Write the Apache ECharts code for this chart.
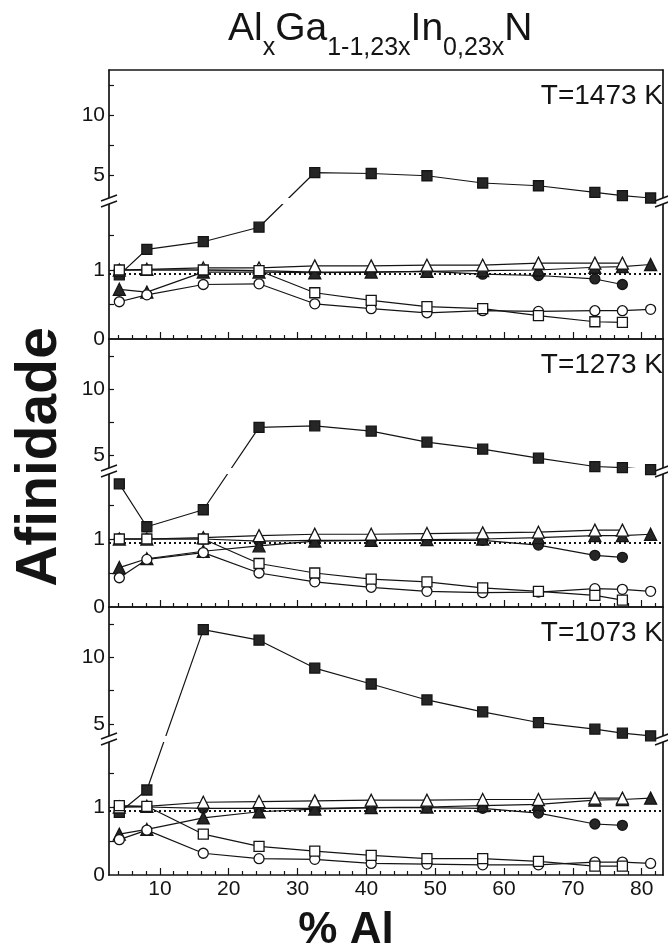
<!DOCTYPE html>
<html>
<head>
<meta charset="utf-8">
<script src="https://cdn.jsdelivr.net/npm/echarts@6/dist/echarts.min.js"></script>
<style>
  html, body { margin: 0; padding: 0; background: #ffffff; }
  #chart { width: 668px; height: 951px; }
</style>
</head>
<body>
<div id="chart"></div>
<script>
// Al content (%) of each calculated composition
const alPercent = [4.1, 8.1, 16.3, 24.4, 32.5, 40.7, 48.8, 56.9, 65.0, 73.2, 77.2, 81.3];

// Axis ticks and labels
const xTickLabels = [10, 20, 30, 40, 50, 60, 70, 80];
const xMinorTicks = [4, 6, 8, 12, 14, 16, 18, 22, 24, 26, 28, 32, 34, 36, 38, 42, 44, 46, 48,
                     52, 54, 56, 58, 62, 64, 66, 68, 72, 74, 76, 78, 82];
const yTicks = [0.5, 1, 1.5, 5, 7.5, 10, 12.5];
const yLabels = [0, 1, 5, 10];

const temperatures = ['T=1473 K', 'T=1273 K', 'T=1073 K'];
const referenceLevel = [0.94, 0.94, 0.94];

// T = 1473 K
const sqFill1473   = [0.93, 1.30, 1.41, 1.62, 5.19, 5.11, 4.92, 4.31, 4.08, 3.53, 3.25, 3.05];
const sqOpen1473   = [1.00, 1.00, 1.00, 0.99, 0.67, 0.56, 0.47, 0.44, 0.34, 0.25, 0.24, null];
const circOpen1473 = [0.54, 0.64, 0.79, 0.80, 0.51, 0.44, 0.38, 0.41, 0.40, 0.41, 0.41, 0.43];
const triFill1473  = [0.72, 0.68, 0.97, 0.97, 0.96, 0.97, 0.98, 0.99, 1.00, 1.04, 1.05, 1.08];
const triOpen1473  = [1.00, 1.01, 1.03, 1.03, 1.06, 1.06, 1.07, 1.07, 1.10, 1.10, 1.10, null];
const circFill1473 = [1.00, 1.00, 1.00, 0.99, 0.97, 0.97, 0.98, 0.94, 0.92, 0.87, 0.79, null];

// T = 1273 K
const sqFill1273   = [1.81, 1.18, 1.43, 7.08, 7.20, 6.80, 5.96, 5.43, 4.75, 4.11, 4.02, 3.88];
const sqOpen1273   = [1.00, 1.00, 1.00, 0.64, 0.50, 0.41, 0.37, 0.28, 0.23, 0.17, 0.10, null];
const circOpen1273 = [0.43, 0.70, 0.80, 0.50, 0.37, 0.29, 0.23, 0.21, 0.22, 0.27, 0.26, 0.23];
const triFill1273  = [0.58, 0.71, 0.82, 0.90, 0.97, 0.98, 0.99, 1.00, 1.02, 1.05, 1.05, 1.07];
const triOpen1273  = [1.00, 1.00, 1.02, 1.05, 1.07, 1.07, 1.08, 1.09, 1.10, 1.13, 1.13, null];
const circFill1273 = [1.00, 1.00, 1.00, 0.97, 0.98, 0.98, 0.98, 0.98, 0.91, 0.76, 0.73, null];

// T = 1073 K
const sqFill1073   = [0.92, 1.25, 12.1, 11.3, 9.20, 8.00, 6.80, 5.90, 5.10, 4.60, 4.30, 4.10];
const sqOpen1073   = [1.02, 1.01, 0.60, 0.42, 0.35, 0.29, 0.24, 0.24, 0.20, 0.13, 0.13, null];
const circOpen1073 = [0.52, 0.66, 0.32, 0.24, 0.23, 0.17, 0.16, 0.15, 0.15, 0.19, 0.19, 0.17];
const triFill1073  = [0.60, 0.67, 0.84, 0.93, 0.97, 0.99, 1.00, 1.02, 1.04, 1.10, 1.11, 1.13];
const triOpen1073  = [1.00, 1.01, 1.07, 1.08, 1.09, 1.10, 1.10, 1.11, 1.11, 1.13, 1.13, null];
const circFill1073 = [1.00, 1.00, 0.98, 0.98, 0.98, 0.99, 0.99, 0.98, 0.91, 0.75, 0.73, null];

const panels = [
  { sqFill: sqFill1473, circFill: circFill1473, triFill: triFill1473,
    triOpen: triOpen1473, circOpen: circOpen1473, sqOpen: sqOpen1473 },
  { sqFill: sqFill1273, circFill: circFill1273, triFill: triFill1273,
    triOpen: triOpen1273, circOpen: circOpen1273, sqOpen: sqOpen1273 },
  { sqFill: sqFill1073, circFill: circFill1073, triFill: triFill1073,
    triOpen: triOpen1073, circOpen: circOpen1073, sqOpen: sqOpen1073 }
];

// Marker styles, in drawing order (later ones sit on top)
const ink = '#141414';
const markerStyles = [
  { key: 'sqFill',   symbol: 'rect',     size: 10, fill: '#262626' },
  { key: 'circFill', symbol: 'circle',   size: 10, fill: '#262626' },
  { key: 'triFill',  symbol: 'triangle', size: 12, fill: '#262626' },
  { key: 'triOpen',  symbol: 'triangle', size: 12, fill: '#ffffff' },
  { key: 'circOpen', symbol: 'circle',   size: 10, fill: '#ffffff' },
  { key: 'sqOpen',   symbol: 'rect',     size: 10, fill: '#ffffff' }
];

// Page layout
const FONT = "'Liberation Sans', Arial, Helvetica, sans-serif";
const LEFT = 109, RIGHT = 5;
const panelTop = [70, 339, 607];
const panelBottom = [339, 607, 875];
const breakY = [201, 471, 739];          // where the axis is broken
const lowerMax = 2;                      // lower part: 0 .. 2
const upperStart = [2.8, 3.77, 3.86];    // upper part: upperStart .. upperMax
const upperMax = 13.8;
const xMin = 2.6, xMax = 83.1;

// Broken y axis: the lower part and the upper part each keep a linear scale,
// joined at the break into one continuous axis coordinate.
function brokenScale(p) {
  const lowerPx = panelBottom[p] - breakY[p];
  const upperPx = breakY[p] - panelTop[p];
  const perLower = lowerPx / lowerMax;
  const perUpper = upperPx / (upperMax - upperStart[p]);
  const k = perUpper / perLower;
  return {
    max: lowerMax + upperPx / perLower,
    toAxis: v => (v <= lowerMax ? v : lowerMax + (v - upperStart[p]) * k),
    fromAxis: t => (t <= lowerMax + 1e-9 ? t : upperStart[p] + (t - lowerMax) / k)
  };
}

const frameLine = { color: ink, width: 1.7 };
const tickLine = { color: ink, width: 1.2 };
const tickFont = { fontSize: 21, color: ink, fontFamily: FONT };

const grids = [], xAxes = [], yAxes = [], series = [], titles = [], graphics = [];

panels.forEach((panel, p) => {
  const top = panelTop[p];
  const bottom = panelBottom[p];
  const brk = breakY[p];
  const sc = brokenScale(p);

  const g = grids.length;
  grids.push({ left: LEFT, right: RIGHT, top: top, height: bottom - top });

  const xMain = xAxes.length;
  xAxes.push({
    gridIndex: g, type: 'value', min: xMin, max: xMax, position: 'bottom',
    axisLine: { show: true, onZero: false, lineStyle: frameLine },
    axisTick: { show: true, inside: true, length: 4, customValues: xMinorTicks, lineStyle: tickLine },
    axisLabel: { show: false }, splitLine: { show: false }
  });
  xAxes.push({
    gridIndex: g, type: 'value', min: xMin, max: xMax, position: 'bottom',
    axisLine: { show: false, onZero: false },
    axisTick: { show: true, inside: true, length: 7, customValues: xTickLabels, lineStyle: tickLine },
    axisLabel: Object.assign({ show: p === 2, customValues: xTickLabels, margin: 4 }, tickFont),
    splitLine: { show: false }
  });
  xAxes.push({
    gridIndex: g, type: 'value', min: xMin, max: xMax, position: 'top',
    axisLine: { show: true, onZero: false, lineStyle: frameLine },
    axisTick: { show: false }, axisLabel: { show: false }, splitLine: { show: false }
  });

  const yMain = yAxes.length;
  yAxes.push({
    gridIndex: g, type: 'value', min: 0, max: sc.max, position: 'left',
    axisLine: { show: true, onZero: false, lineStyle: frameLine },
    axisTick: { show: true, inside: true, length: 5, customValues: yTicks.map(sc.toAxis), lineStyle: tickLine },
    axisLabel: Object.assign({
      customValues: yLabels.map(sc.toAxis), margin: 4,
      formatter: t => String(Math.round(sc.fromAxis(t)))
    }, tickFont),
    splitLine: { show: false }
  });
  yAxes.push({
    gridIndex: g, type: 'value', min: 0, max: sc.max, position: 'right',
    axisLine: { show: true, onZero: false, lineStyle: frameLine },
    axisTick: { show: false }, axisLabel: { show: false }, splitLine: { show: false }
  });

  const toPoints = values => {
    const out = [];
    alPercent.forEach((x, i) => { if (values[i] != null) out.push([x, sc.toAxis(values[i])]); });
    return out;
  };

  // connecting lines underneath
  markerStyles.forEach((m, k) => {
    const s = {
      type: 'line', xAxisIndex: xMain, yAxisIndex: yMain,
      data: toPoints(panel[m.key]), showSymbol: false, symbol: 'none',
      silent: true, animation: false, z: 1,
      lineStyle: { color: ink, width: 1.2 },
      emphasis: { disabled: true }
    };
    if (k === 0) {
      s.markLine = {
        silent: true, symbol: 'none', animation: false,
        label: { show: false },
        lineStyle: { color: ink, width: 1.8, type: [2, 3] },
        data: [{ yAxis: sc.toAxis(referenceLevel[p]) }]
      };
    }
    series.push(s);
  });
  // markers on top
  markerStyles.forEach((m, k) => {
    series.push({
      type: 'scatter', xAxisIndex: xMain, yAxisIndex: yMain,
      data: toPoints(panel[m.key]),
      symbol: m.symbol, symbolSize: m.size,
      silent: true, animation: false, z: 3 + k,
      itemStyle: { color: m.fill, borderColor: ink, borderWidth: 1.3, opacity: 1 },
      emphasis: { disabled: true }
    });
  });

  // temperature of the panel
  titles.push({
    text: temperatures[p], right: 5, top: top + 12, padding: 0,
    textStyle: { fontSize: 28, fontWeight: 'normal', color: ink, fontFamily: FONT }
  });

  // gap of the broken axis across the plot, with "//" marks on both frame sides
  graphics.push({
    type: 'rect', z: 2, silent: true,
    shape: { x: LEFT - 1, y: brk - 3, width: 668 - RIGHT - LEFT + 2, height: 6 },
    style: { fill: '#ffffff' }
  });
  [LEFT, 668 - RIGHT].forEach(x => {
    graphics.push({
      type: 'polygon', z: 2, silent: true,
      shape: { points: [[x - 8, brk], [x + 8, brk - 6], [x + 8, brk], [x - 8, brk + 6]] },
      style: { fill: '#ffffff' }
    });
    graphics.push({
      type: 'line', z: 20, silent: true,
      shape: { x1: x - 8, y1: brk, x2: x + 8, y2: brk - 6 },
      style: { stroke: ink, lineWidth: 1.5 }
    });
    graphics.push({
      type: 'line', z: 20, silent: true,
      shape: { x1: x - 8, y1: brk + 6, x2: x + 8, y2: brk },
      style: { stroke: ink, lineWidth: 1.5 }
    });
  });
});

// compound formula above the plots
titles.push({
  text: '{m|Al}{s|x}{m|Ga}{s|1-1,23x}{m|In}{s|0,23x}{m|N}',
  left: 228, top: 10, padding: 0,
  textStyle: {
    rich: {
      m: { fontSize: 39, fontWeight: 'normal', fontFamily: FONT, color: ink, lineHeight: 44, verticalAlign: 'top' },
      s: { fontSize: 25, fontWeight: 'normal', fontFamily: FONT, color: ink, lineHeight: 28, verticalAlign: 'top', padding: [26, 0, 0, 0] }
    }
  }
});

// x axis title
titles.push({
  text: '% Al', left: 346, top: 909, textAlign: 'center', padding: 0,
  textStyle: { fontSize: 44, fontWeight: 'bold', color: ink, fontFamily: FONT }
});

// y axis title
graphics.push({
  type: 'text', silent: true, x: 40, y: 457, rotation: Math.PI / 2,
  style: {
    text: 'Afinidade', fill: ink, font: 'bold 57px ' + FONT,
    align: 'center', verticalAlign: 'middle'
  }
});

const chart = echarts.init(document.getElementById('chart'), null, { renderer: 'canvas' });
chart.setOption({
  backgroundColor: '#ffffff',
  animation: false,
  title: titles,
  grid: grids,
  xAxis: xAxes,
  yAxis: yAxes,
  series: series,
  graphic: graphics
});
</script>
</body>
</html>
